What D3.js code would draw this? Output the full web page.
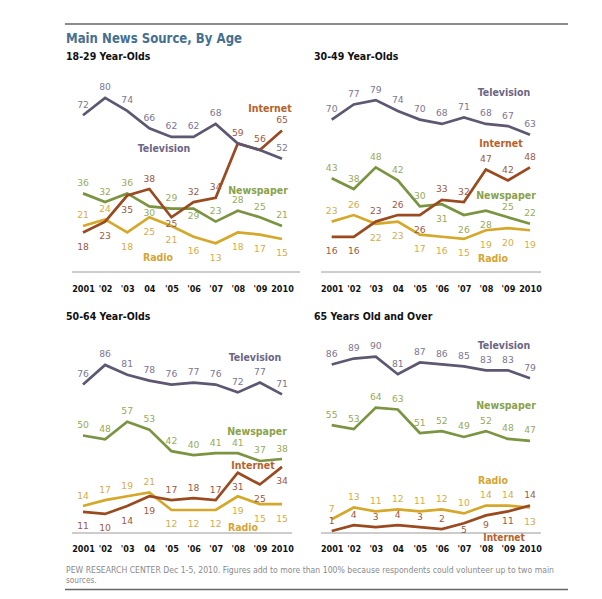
<!DOCTYPE html>
<html><head><meta charset="utf-8">
<script src="https://cdn.jsdelivr.net/npm/d3@7"></script>
<style>
html,body{margin:0;padding:0;background:#fff;}
svg{display:block;}
</style></head>
<body>
<svg id="c" width="602" height="599"></svg>
<script>
// ---------- DATA ----------
const years = [2001,2002,2003,2004,2005,2006,2007,2008,2009,2010];
const tickLabels = ["2001","'02","'03","04","'05","'06","'07","'08","'09","2010"];
const seriesNames = ["Television","Internet","Newspaper","Radio"];
const panelTitles = ["18-29 Year-Olds","30-49 Year-Olds","50-64 Year-Olds","65 Years Old and Over"];
const chartTitle = "Main News Source, By Age";
const footnote1 = "PEW RESEARCH  CENTER Dec 1-5, 2010. Figures add to more than 100% because respondents could volunteer up to two main";
const footnote2 = "sources.";

const tv18 = [72,80,74,66,62,62,68,59,56,52];
const net18 = [18,23,35,38,25,32,34,59,56,65];
const news18 = [36,32,36,30,29,29,23,28,25,21];
const radio18 = [21,24,18,25,21,16,13,18,17,15];

const tv30 = [70,77,79,74,70,68,71,68,67,63];
const net30 = [16,16,23,26,26,33,32,47,42,48];
const news30 = [43,38,48,42,30,31,26,28,25,22];
const radio30 = [23,26,22,23,17,16,15,19,20,19];

const tv50 = [76,86,81,78,76,77,76,72,77,71];
const net50 = [11,10,14,19,17,18,17,31,25,34];
const news50 = [50,48,57,53,42,40,41,41,37,38];
const radio50 = [14,17,19,21,12,12,12,19,15,15];

const tv65 = [86,89,90,81,87,86,85,83,83,79];
const net65 = [1,4,3,4,3,2,5,9,11,14];
const news65 = [55,53,64,63,51,52,49,52,48,47];
const radio65 = [7,13,11,12,11,12,10,14,14,13];

// ---------- LAYOUT / STYLE ----------
const lineColors = ["#5d5772","#9b4a1f","#7a9440","#d6a82a"];
const valueColors = ["#7b7690","#9a5a44","#97aa5a","#d6ac48"];
const nameColors = ["#6b6682","#b5622a","#8aa24a","#d6a632"];

// placement of value labels: a = above, b = below, c = just below, d = mid below, n = none
const place = [
  { tv:"aaaaaaanna", net:"bbbacaaaaa", news:"aaacac" + "aaaa", radio:"aabbbbbbbb" },
  { tv:"aaaaaaaaaa", net:"bbaaba" + "aaaa", news:"aaaaabbbaa", radio:"aabbbbbbbb" },
  { tv:"aaaaaaaaaa", net:"bbbbaaabbb", news:"aaaaaaaaaa", radio:"aaaabbbbbb" },
  { tv:"aaaaaaaaaa", net:"aaaaaacdda", news:"aaaaaaaaaa", radio:"aaaaaaaaab" }
];
const offsets = { a:-7.5, b:17.5, c:10, d:13 };

// names order: Television, Internet, Newspaper, Radio (centers)
const panels = [
  { data:[tv18,net18,news18,radio18], x:[83,282], y:[271.5,54.5], base:[72,300,272], tickY:291.5,
    title:[66,60], names:[[164,148],[270,108],[258,190],[158,257]] },
  { data:[tv30,net30,news30,radio30], x:[331.7,530], y:[271.5,54.5], base:[321,541,272], tickY:291.5,
    title:[314,60], names:[[504,92],[501,143],[506,195],[493,258]] },
  { data:[tv50,net50,news50,radio50], x:[83,282], y:[533.5,337.5], base:[72,292,533], tickY:552,
    title:[66,320], names:[[255,357],[253,465],[257,431],[243,527]] },
  { data:[tv65,net65,news65,radio65], x:[331.7,530], y:[533,337], base:[321,541,533], tickY:552,
    title:[314,320], names:[[504,345],[504,537.5],[506,405],[493,480]] }
];

const svg = d3.select("#c");
const FONT = "'DejaVu Sans Condensed','DejaVu Sans',sans-serif";

// rules
svg.append("line").attr("x1",65).attr("x2",568).attr("y1",24).attr("y2",24)
  .attr("stroke","#666").attr("stroke-width",1.6);
svg.append("line").attr("x1",65).attr("x2",568).attr("y1",589.5).attr("y2",589.5)
  .attr("stroke","#666").attr("stroke-width",1.6);

svg.append("text").attr("x",66).attr("y",43).text(chartTitle)
  .attr("font-family",FONT).attr("font-weight","bold").attr("font-size",14.5)
  .attr("fill","#46708f").attr("textLength",176).attr("lengthAdjust","spacingAndGlyphs");

svg.append("text").attr("x",66).attr("y",573).text(footnote1)
  .attr("font-family",FONT).attr("font-size",8.2).attr("fill","#8a8a8a")
  .attr("textLength",488).attr("lengthAdjust","spacingAndGlyphs");
svg.append("text").attr("x",66).attr("y",582.5).text(footnote2)
  .attr("font-family",FONT).attr("font-size",8.2).attr("fill","#8a8a8a");

const seriesKeys = ["tv","net","news","radio"];

panels.forEach((p,pi)=>{
  const g = svg.append("g");
  const x = d3.scalePoint().domain(years).range(p.x);
  const y = d3.scaleLinear().domain([0,100]).range(p.y);

  g.append("text").attr("x",p.title[0]).attr("y",p.title[1]).text(panelTitles[pi])
    .attr("font-family",FONT).attr("font-weight","bold").attr("font-size",10.5).attr("fill","#111");

  // baseline
  g.append("line").attr("x1",p.base[0]).attr("x2",p.base[1]).attr("y1",p.base[2]).attr("y2",p.base[2])
    .attr("stroke","#9a9a9a").attr("stroke-width",1);

  // axis
  const ax = d3.axisBottom(x).tickSize(0).tickPadding(0).tickFormat((d,i)=>tickLabels[i]);
  const axg = g.append("g").attr("transform",`translate(0,${p.tickY})`).call(ax);
  axg.select(".domain").remove();
  axg.selectAll("text").attr("dy",0).attr("font-family",FONT).attr("font-weight","bold")
    .attr("font-size",9).attr("fill","#111");

  const line = d3.line().x((d,i)=>x(years[i])).y(d=>y(d));

  // draw lines in order: radio, newspaper, internet, tv
  [3,2,1,0].forEach(si=>{
    g.append("path").datum(p.data[si]).attr("d",line).attr("fill","none")
      .attr("stroke",lineColors[si]).attr("stroke-width",2.7)
      .attr("stroke-linejoin","miter").attr("stroke-linecap","butt");
  });

  // value labels
  [0,1,2,3].forEach(si=>{
    const pl = place[pi][seriesKeys[si]];
    const pts = p.data[si].map((v,i)=>({v, yr:years[i], pos:pl[i]})).filter(d=>d.pos!=="n");
    g.selectAll(null).data(pts).enter().append("text")
      .attr("x",d=>x(d.yr))
      .attr("y",d=>y(d.v) + offsets[d.pos])
      .attr("text-anchor","middle")
      .attr("font-family","'DejaVu Sans',sans-serif").attr("font-size",9.2)
      .attr("fill",valueColors[si]).text(d=>d.v);
  });

  // series names
  seriesNames.forEach((nm,si)=>{
    const small = (pi===3 && si===1);
    g.append("text").attr("x",p.names[si][0]).attr("y",p.names[si][1]+3.5)
      .attr("text-anchor","middle").text(nm)
      .attr("font-family",FONT).attr("font-weight","bold").attr("font-size",small?10:10.5)
      .attr("fill",nameColors[si]);
  });
});
</script>
</body></html>
